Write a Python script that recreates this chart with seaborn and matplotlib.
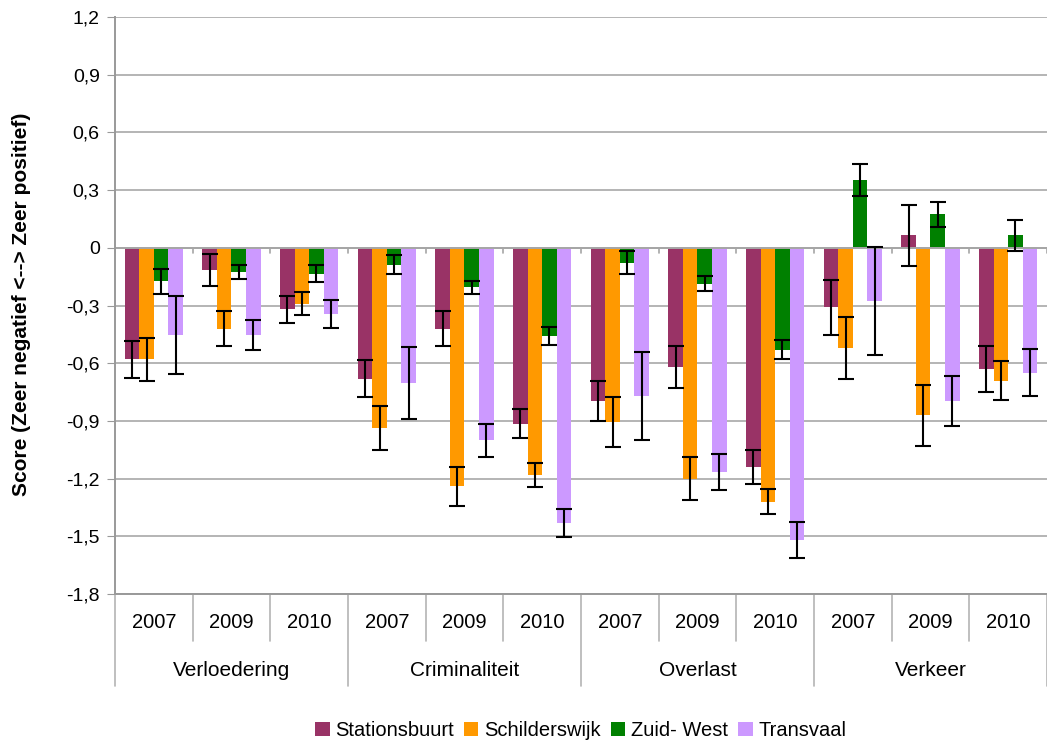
import matplotlib
matplotlib.use("Agg")
import matplotlib.pyplot as plt
import matplotlib.transforms as mtransforms
import pandas as pd
import seaborn as sns

# Categories and years (two-level x axis)
categories = ['Verloedering', 'Criminaliteit', 'Overlast', 'Verkeer']
years = ['2007', '2009', '2010']
series = ['Stationsbuurt', 'Schilderswijk', 'Zuid- West', 'Transvaal']
colors = ['#993366', '#FF9900', '#008000', '#CC99FF']

# Scores per series, 12 values: categories x years
stationsbuurt = [-0.58, -0.115, -0.32, -0.68, -0.42, -0.915, -0.795, -0.62, -1.14, -0.31, 0.066, -0.63]
schilderswijk = [-0.58, -0.42, -0.29, -0.935, -1.24, -1.18, -0.905, -1.20, -1.32, -0.52, -0.87, -0.69]
zuid_west = [-0.175, -0.125, -0.135, -0.088, -0.205, -0.46, -0.077, -0.187, -0.53, 0.352, 0.175, 0.066]
transvaal = [-0.453, -0.453, -0.344, -0.703, -1.0, -1.43, -0.77, -1.165, -1.52, -0.275, -0.795, -0.65]

# Error bar half-widths
err_stationsbuurt = [0.095, 0.084, 0.07, 0.095, 0.09, 0.075, 0.103, 0.107, 0.09, 0.145, 0.158, 0.118]
err_schilderswijk = [0.11, 0.09, 0.06, 0.115, 0.10, 0.063, 0.13, 0.113, 0.065, 0.16, 0.158, 0.10]
err_zuid_west = [0.065, 0.035, 0.045, 0.05, 0.034, 0.046, 0.06, 0.04, 0.049, 0.085, 0.065, 0.08]
err_transvaal = [0.203, 0.08, 0.075, 0.187, 0.085, 0.074, 0.228, 0.093, 0.094, 0.28, 0.13, 0.123]

y_ticks = [-1.8, -1.5, -1.2, -0.9, -0.6, -0.3, 0, 0.3, 0.6, 0.9, 1.2]

values = [stationsbuurt, schilderswijk, zuid_west, transvaal]
errors = [err_stationsbuurt, err_schilderswijk, err_zuid_west, err_transvaal]

groups = [f'{c} {y}' for c in categories for y in years]
rows = []
for s, vals in zip(series, values):
    for g, v in zip(groups, vals):
        rows.append({'Groep': g, 'Wijk': s, 'Score': v})
df = pd.DataFrame(rows)

sns.set_style('white')
plt.rcParams['font.family'] = ['Liberation Sans', 'DejaVu Sans']
plt.rcParams['text.color'] = 'black'
plt.rcParams['ytick.labelcolor'] = 'black'

fig = plt.figure(figsize=(10.47, 7.47), dpi=100)
ax = fig.add_axes([0.1098, 0.2048, 0.8902, 0.7724])

sns.barplot(data=df, x='Groep', y='Score', hue='Wijk', order=groups,
            hue_order=series, palette=colors, width=0.75, gap=0,
            errorbar=None, saturation=1, linewidth=0, ax=ax)

# error bars at the bar ends
for cont, errs in zip(ax.containers, errors):
    xs = [p.get_x() + p.get_width() / 2 for p in cont.patches]
    ys = [p.get_y() + p.get_height() for p in cont.patches]
    ax.errorbar(xs, ys, yerr=errs, fmt='none', ecolor='black',
                elinewidth=1.5, capsize=5.5, capthick=1.5, zorder=5)

ax.set_ylim(-1.8, 1.2)
ax.set_xlim(-0.5, len(groups) - 0.5)
ax.set_yticks(y_ticks)
ax.set_yticklabels(['0' if t == 0 else f'{t:.1f}'.replace('.', ',') for t in y_ticks], fontsize=14)
ax.yaxis.grid(True, color='#b4b4b4', linewidth=1.4)
ax.set_axisbelow(True)
ax.axhline(0, color='#a6a6a6', linewidth=1.4, zorder=1)
ax.tick_params(axis='y', which='both', left=True, length=6, color='#999999',
               labelcolor='black', pad=5)
ax.tick_params(axis='x', bottom=False, labelbottom=False)
for side in ['top', 'right']:
    ax.spines[side].set_visible(False)
for side in ['left', 'bottom']:
    ax.spines[side].set_color('#999999')
    ax.spines[side].set_linewidth(1.4)
ax.set_xlabel('')
ax.set_ylabel('')

# small tick marks on the zero line between groups
for i in range(len(groups) + 1):
    ax.plot([i - 0.5, i - 0.5], [0, -0.025], color='#a6a6a6', linewidth=1.2, zorder=1)

# two-level category axis
trans = mtransforms.blended_transform_factory(ax.transData, ax.transAxes)
for i, g in enumerate(groups):
    ax.text(i, -0.05, years[i % len(years)], transform=trans, ha='center', va='center',
            fontsize=14.5, color='black')
for i in range(len(groups) + 1):
    low = -0.159 if i % len(years) == 0 else -0.081
    ax.plot([i - 0.5, i - 0.5], [0, low], transform=trans, color='#b4b4b4',
            linewidth=1.2, clip_on=False)
for j, c in enumerate(categories):
    ax.text(j * len(years) + (len(years) - 1) / 2, -0.133, c, transform=trans,
            ha='center', va='center', fontsize=15, color='black')

fig.text(0.021, 0.592, 'Score (Zeer negatief <--> Zeer positief)', rotation=90,
         ha='center', va='center', fontsize=15, fontweight='bold', color='black')

handles, labels = ax.get_legend_handles_labels()
leg = ax.legend(handles, labels, loc='center', bbox_to_anchor=(0.5, -0.237), ncol=4,
                frameon=False, fontsize=14.5, handlelength=0.7, handleheight=0.7,
                handletextpad=0.3, columnspacing=0.5)
for t in leg.get_texts():
    t.set_color('black')

fig.savefig('out.png', dpi=100)
